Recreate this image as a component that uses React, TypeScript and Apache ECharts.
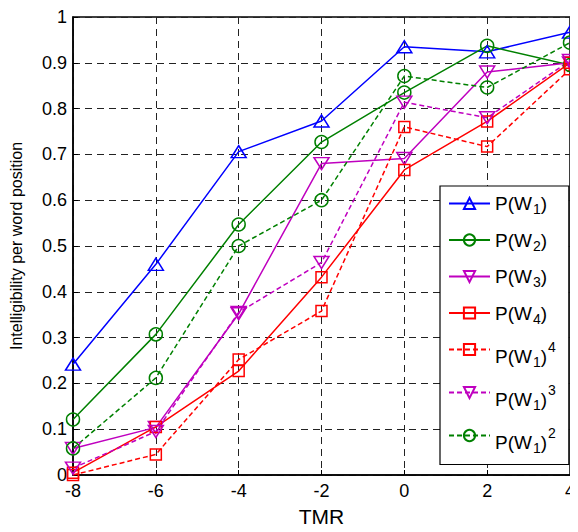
import React, { useEffect, useRef } from "react";
import * as echarts from "echarts";

const tmr = [-8, -6, -4, -2, 0, 2, 4];
const pw1 = [0.242, 0.46, 0.706, 0.773, 0.935, 0.924, 0.967];
const pw2 = [0.121, 0.307, 0.547, 0.727, 0.835, 0.937, 0.895];
const pw3 = [0.058, 0.104, 0.352, 0.68, 0.691, 0.88, 0.9];
const pw4 = [0.005, 0.105, 0.227, 0.432, 0.666, 0.772, 0.9];
const pw1pow4 = [0.0, 0.045, 0.252, 0.358, 0.76, 0.717, 0.886];
const pw1pow3 = [0.015, 0.095, 0.355, 0.464, 0.814, 0.78, 0.905];
const pw1pow2 = [0.058, 0.212, 0.5, 0.6, 0.871, 0.846, 0.944];

const names = ["P(W1)", "P(W2)", "P(W3)", "P(W4)", "P(W1)^4", "P(W1)^3", "P(W1)^2"];
const legendRich = [
  "{a|P(W}{s|1}{a|)}",
  "{a|P(W}{s|2}{a|)}",
  "{a|P(W}{s|3}{a|)}",
  "{a|P(W}{s|4}{a|)}",
  "{b|P(W}{t|1}{b|)}{p|4}",
  "{b|P(W}{t|1}{b|)}{p|3}",
  "{b|P(W}{t|1}{b|)}{p|2}",
];

const BLUE = "#0000ff";
const GREEN = "#008000";
const MAGENTA = "#bf00bf";
const RED = "#ff0000";

export default function App() {
  const ref = useRef<HTMLDivElement>(null);
  useEffect(() => {
    if (!ref.current) return;
    const chart = echarts.init(ref.current, undefined, { renderer: "svg" });
    const font = "Liberation Sans, Arial, sans-serif";
    const mk = (
      name: string,
      data: number[],
      color: string,
      symbol: string,
      size: number | number[],
      dashed: boolean,
      rotate = 0
    ) => ({
      name,
      type: "line",
      data: tmr.map((x, i) => [x, data[i]]),
      symbol,
      symbolSize: size,
      symbolRotate: rotate,
      showSymbol: true,
      lineStyle: { color, width: 1.5, type: dashed ? [5, 3] : "solid" },
      itemStyle: { color: "rgba(255,255,255,0)", borderColor: color, borderWidth: 1.5 },
      emphasis: { disabled: true },
    });
    const base = { fontFamily: font, color: "#000", verticalAlign: "top" };
    chart.setOption({
      animation: false,
      textStyle: { fontFamily: font },
      grid: {
        left: 69,
        right: 1,
        top: 17,
        bottom: 52,
        show: true,
        borderColor: "#000",
        borderWidth: 1.5,
        backgroundColor: "#fff",
      },
      xAxis: {
        type: "value",
        min: -8,
        max: 4,
        interval: 2,
        name: "TMR",
        nameLocation: "middle",
        nameGap: 31,
        nameTextStyle: { fontSize: 21, color: "#000", fontFamily: font },
        axisLine: { show: true, onZero: false, lineStyle: { color: "#000", width: 1.5 } },
        axisTick: { show: true, inside: true, length: 5, lineStyle: { color: "#000" } },
        axisLabel: { fontSize: 18, color: "#000", margin: 7, fontFamily: font },
        splitLine: { show: true, lineStyle: { color: "#222", type: [7, 5], width: 1 } },
      },
      yAxis: {
        type: "value",
        min: 0,
        max: 1,
        interval: 0.1,
        name: "Intelligibility per word position",
        nameLocation: "middle",
        nameGap: 49,
        nameTextStyle: { fontSize: 16, color: "#000", fontFamily: font },
        axisLine: { show: true, onZero: false, lineStyle: { color: "#000", width: 1.5 } },
        axisTick: { show: true, inside: true, length: 5, lineStyle: { color: "#000" } },
        axisLabel: {
          fontSize: 18,
          color: "#000",
          margin: 6,
          fontFamily: font,
          formatter: (v: number) => (v === 0 ? "0" : v === 1 ? "1" : v.toFixed(1)),
        },
        splitLine: { show: true, lineStyle: { color: "#222", type: [7, 5], width: 1 } },
      },
      legend: {
        orient: "vertical",
        left: 440,
        top: 186,
        backgroundColor: "#fff",
        borderColor: "#000",
        borderWidth: 1.2,
        borderRadius: 0,
        padding: [8, 13, 10, 8],
        itemWidth: 41,
        itemHeight: 14,
        itemGap: 14.5,
        selectedMode: false,
        data: names,
        formatter: (name: string) => legendRich[names.indexOf(name)],
        textStyle: {
          fontFamily: font,
          color: "#000",
          rich: {
            a: { ...base, fontSize: 19, lineHeight: 19, padding: [0, 0, 0, 0] },
            s: { ...base, fontSize: 14, lineHeight: 14, padding: [8, 0, 0, 1] },
            b: { ...base, fontSize: 19, lineHeight: 19, padding: [6.5, 0, 0, 0] },
            t: { ...base, fontSize: 14, lineHeight: 14, padding: [14.5, 0, 0, 1] },
            p: { ...base, fontSize: 14, lineHeight: 14, padding: [0, 0, 0, 1] },
          },
        },
      },
      series: [
        mk(names[0], pw1, BLUE, "triangle", [15, 12], false),
        mk(names[1], pw2, GREEN, "circle", 13, false),
        mk(names[2], pw3, MAGENTA, "triangle", [15, 12], false, 180),
        mk(names[3], pw4, RED, "rect", 11, false),
        mk(names[4], pw1pow4, RED, "rect", 11, true),
        mk(names[5], pw1pow3, MAGENTA, "triangle", [15, 12], true, 180),
        mk(names[6], pw1pow2, GREEN, "circle", 13, true),
      ],
    });
    return () => chart.dispose();
  }, []);
  return <div ref={ref} style={{ width: 578, height: 532, margin: -8 }} />;
}
